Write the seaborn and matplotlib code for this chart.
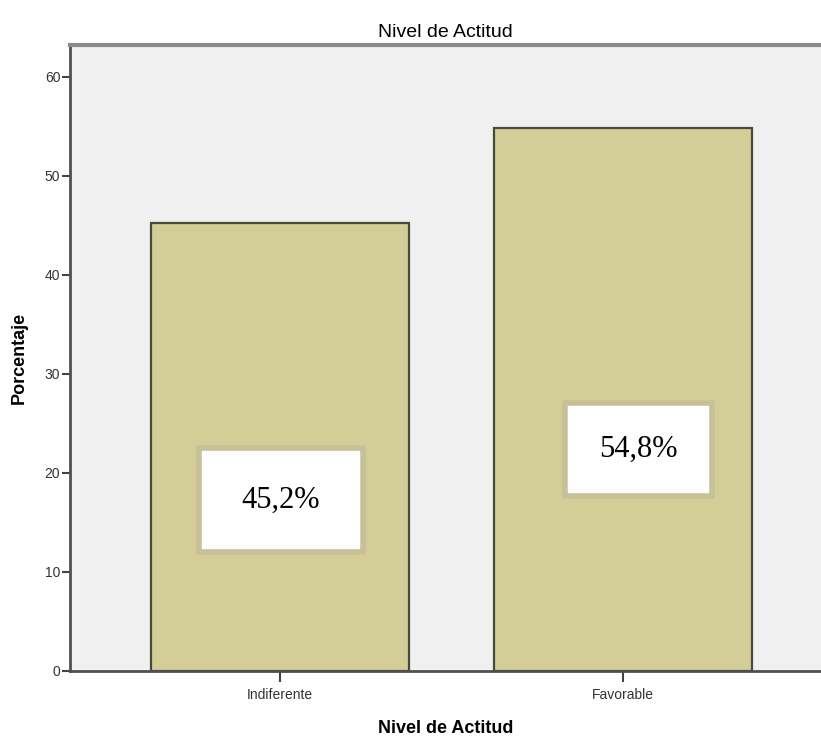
import matplotlib
matplotlib.use("Agg")
import matplotlib.pyplot as plt
import seaborn as sns
import pandas as pd
from matplotlib.patches import Rectangle

categories = ["Indiferente", "Favorable"]
values = [45.2, 54.8]
labels = ["45,2%", "54,8%"]
yticks = [0, 10, 20, 30, 40, 50, 60]

sns.set_style("white")
plt.rcParams["font.family"] = ["Liberation Sans", "DejaVu Sans"]

fig = plt.figure(figsize=(8.21, 7.38), dpi=100)
ax = fig.add_axes([70/821, 1-671/738, 1-70/821, (671-45)/738])
ax.set_facecolor("#F0F0F0")

df = pd.DataFrame({"cat": categories, "val": values})
sns.barplot(data=df, x="cat", y="val", color="#D3CE97", saturation=1,
            edgecolor="#4A4A3A", linewidth=1.6, width=0.75, ax=ax)

ax.set_xlim(-0.612, 1.577)
ax.set_ylim(0, 63.2)
ax.set_yticks(yticks)
ax.set_yticklabels([str(t) for t in yticks], fontsize=10, color="#333333")
ax.tick_params(axis="y", direction="out", length=6, width=1.5, color="#444444", pad=1, left=True)
ax.tick_params(axis="x", direction="out", length=8, width=1.5, color="#444444", pad=4, bottom=True, labelsize=10, labelcolor="#333333")

for s in ["left", "bottom"]:
    ax.spines[s].set_color("#505050")
    ax.spines[s].set_linewidth(2)
ax.spines["top"].set_color("#8A8A8A")
ax.spines["top"].set_linewidth(3)
ax.spines["right"].set_visible(False)

ax.set_xlabel("Nivel de Actitud", fontsize=13, fontweight="bold", labelpad=13, color="black")
ax.set_ylabel("Porcentaje", fontsize=13, fontweight="bold", labelpad=12, color="black")
ax.set_title("Nivel de Actitud", fontsize=14, pad=6, color="black")

# label boxes (x0, x1, y0, y1 in data units)
boxes = [(-0.236, 0.242, 12.0, 22.5), (0.831, 1.259, 17.7, 27.1)]
for (x0, x1, y0, y1), lab in zip(boxes, labels):
    ax.add_patch(Rectangle((x0, y0), x1 - x0, y1 - y0, facecolor="white",
                           edgecolor="#C8C096", linewidth=4, zorder=5))
    ax.text((x0 + x1) / 2, (y0 + y1) / 2, lab, ha="center", va="center",
            fontsize=22, family=["Liberation Serif"], color="black", zorder=6)

fig.savefig("out.png", dpi=100)
